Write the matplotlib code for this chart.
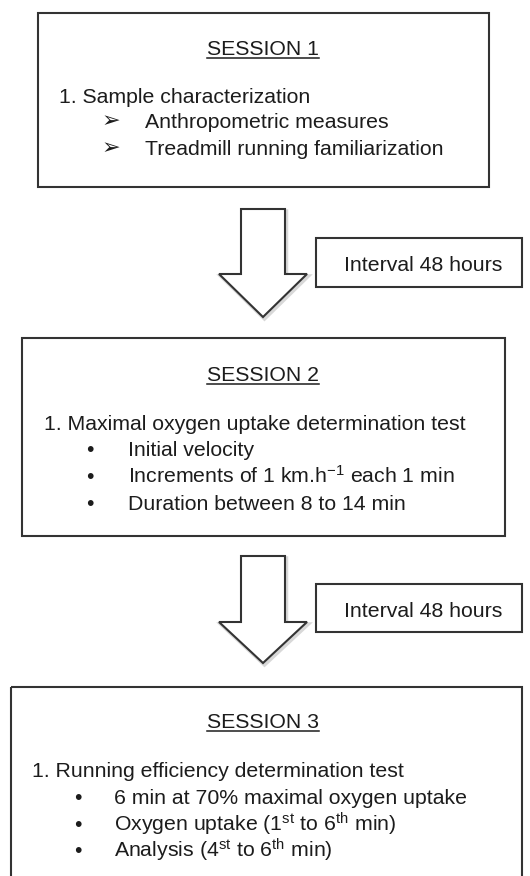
import matplotlib
matplotlib.use("Agg")
import matplotlib.pyplot as plt
from matplotlib.patches import Rectangle, Polygon

plt.rcParams['font.family'] = ['Liberation Sans', 'DejaVu Sans']
plt.rcParams['mathtext.fontset'] = 'custom'
plt.rcParams['mathtext.rm'] = 'Liberation Sans'
plt.rcParams['mathtext.it'] = 'Liberation Sans'
plt.rcParams['mathtext.default'] = 'rm'

# ---- content ----
session_titles = ["SESSION 1", "SESSION 2", "SESSION 3"]
session_items = ["1. Sample characterization",
                 "1. Maximal oxygen uptake determination test",
                 "1. Running efficiency determination test"]
session_markers = ["\u27A2", "\u2022", "\u2022"]
session_bullets = [
    ["Anthropometric measures", "Treadmill running familiarization"],
    ["Initial velocity", r"Increments of 1 km.h$^{-1}$ each 1 min", "Duration between 8 to 14 min"],
    ["6 min at 70% maximal oxygen uptake", r"Oxygen uptake (1$^{st}$ to 6$^{th}$ min)",
     r"Analysis (4$^{st}$ to 6$^{th}$ min)"],
]
interval_labels = ["Interval 48 hours", "Interval 48 hours"]

# ---- layout (pixels) ----
W, H = 530, 876
boxes = [(38, 13, 489, 187), (22, 338, 505, 536), (11, 687, 522, 900)]
title_base = [55, 381, 728]
item_x = [59, 44, 32]
item_base = [103, 430, 777]
marker_x = [111, 90, 78]
bullet_x = [145, 128, 114]
bullet_base = [[128, 155], [456, 483, 510], [804, 831, 857]]
interval_boxes = [(316, 238, 522, 287), (316, 584, 522, 632)]
interval_base = [271, 617]
arrows = [(209, 274, 317), (556, 622, 663)]
shaft = (241, 285)
head = (219, 307)
tip_x = 263

FS = 15.3
ink = "#1c1c1c"
edge = "#333333"

fig = plt.figure(figsize=(W / 100, H / 100), dpi=100)
ax = fig.add_axes([0, 0, 1, 1])
ax.set_xlim(0, W)
ax.set_ylim(H, 0)
ax.axis("off")

for (x0, y0, x1, y1) in boxes:
    ax.add_patch(Rectangle((x0, y0), x1 - x0, y1 - y0, fill=False, ec=edge, lw=1.5))
for (x0, y0, x1, y1) in interval_boxes:
    ax.add_patch(Rectangle((x0, y0), x1 - x0, y1 - y0, fill=False, ec=edge, lw=1.5))

for (top, hs, tip) in arrows:
    pts = [(shaft[0], top), (shaft[1], top), (shaft[1], hs), (head[1], hs),
           (tip_x, tip), (head[0], hs), (shaft[0], hs)]
    ax.add_patch(Polygon([(x + 1.5, y + 2) for x, y in pts], closed=True,
                         fc="none", ec="#d8d8d8", lw=2.5, joinstyle="miter"))
    ax.add_patch(Polygon(pts, closed=True, fc="white", ec=edge, lw=1.5, joinstyle="miter"))

title_texts = []
for i in range(3):
    t = ax.text(263, title_base[i], session_titles[i], ha="center", va="baseline",
                fontsize=FS, color=ink)
    title_texts.append(t)
    ax.text(item_x[i], item_base[i], session_items[i], ha="left", va="baseline",
            fontsize=FS, color=ink)
    for j, b in enumerate(session_bullets[i]):
        if i == 0:
            ax.text(marker_x[i], bullet_base[i][j] - 1, session_markers[i], ha="center",
                    va="baseline", fontsize=FS * 1.05, color=ink, fontweight="bold",
                    family=['DejaVu Sans'])
        else:
            ax.text(marker_x[i], bullet_base[i][j], session_markers[i], ha="center",
                    va="baseline", fontsize=FS, color=ink)
        ax.text(bullet_x[i], bullet_base[i][j], b, ha="left", va="baseline",
                fontsize=FS, color=ink)

for i, lab in enumerate(interval_labels):
    x0, y0, x1, y1 = interval_boxes[i]
    ax.text((x0 + x1) / 2 + 4, interval_base[i], lab, ha="center", va="baseline",
            fontsize=FS, color=ink)

# underline titles
fig.canvas.draw()
r = fig.canvas.get_renderer()
inv = ax.transData.inverted()
for i, t in enumerate(title_texts):
    bb = t.get_window_extent(r)
    (xa, _), (xb, _) = inv.transform([(bb.x0, bb.y0), (bb.x1, bb.y0)])
    ax.plot([xa, xb], [title_base[i] + 3, title_base[i] + 3], color=ink, lw=1.1)

fig.savefig("out.png", dpi=100)
